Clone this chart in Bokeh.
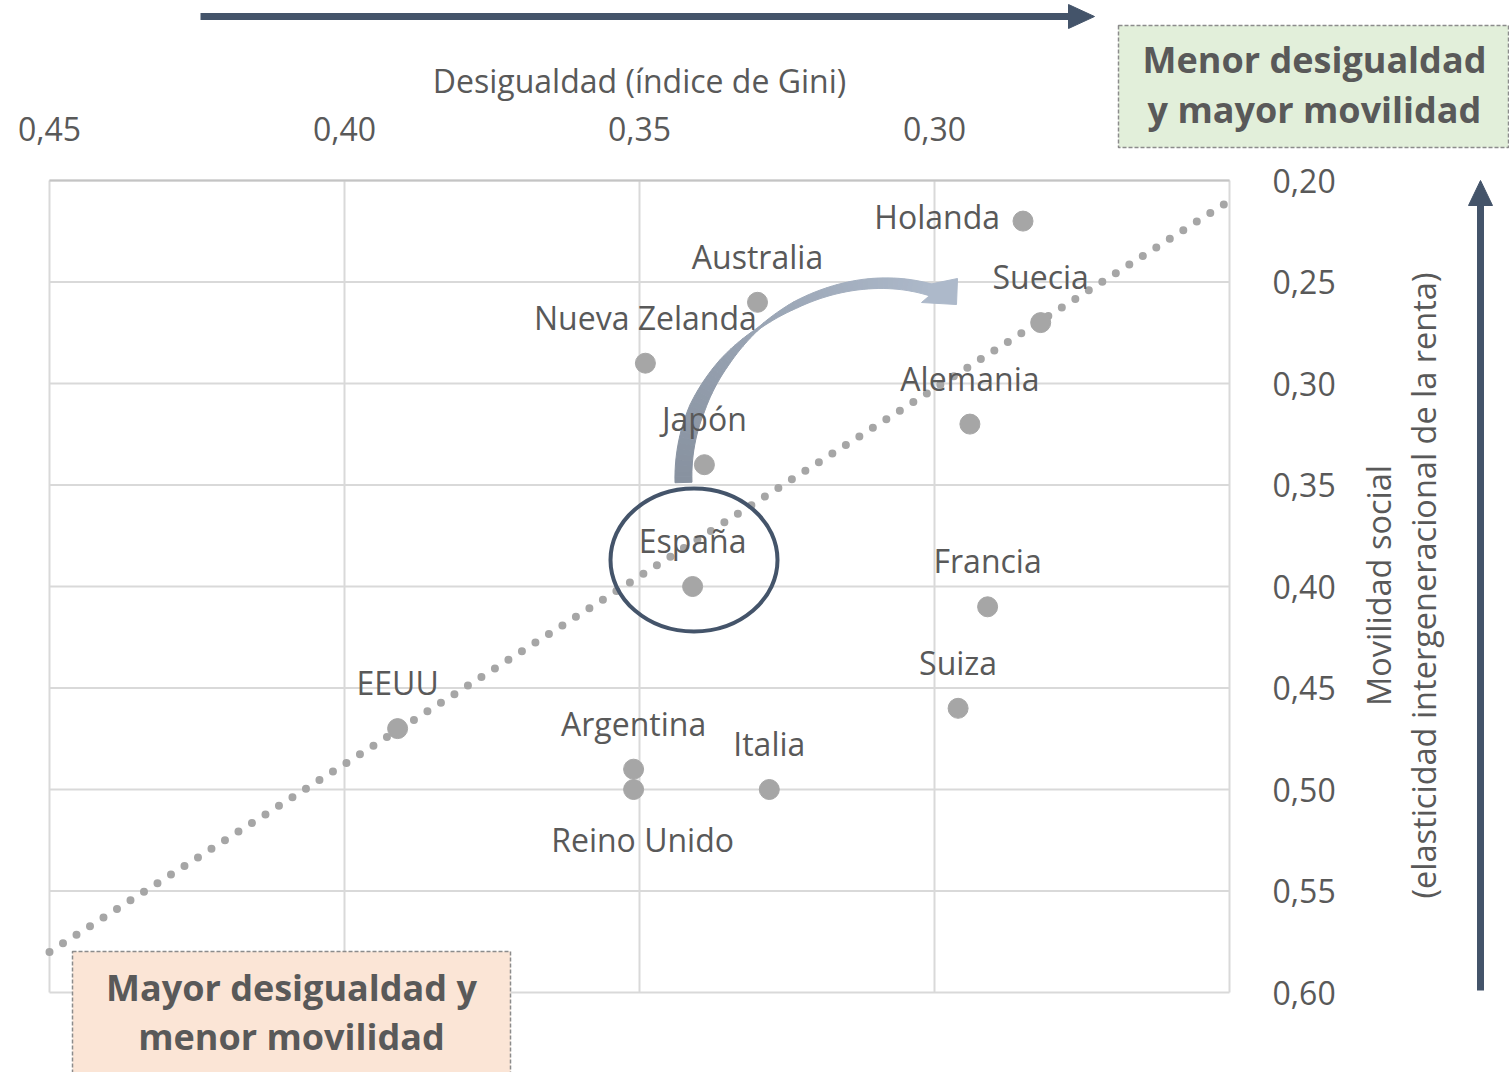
import numpy as np
from bokeh.plotting import figure
from bokeh.models import Range1d, FixedTicker, ColumnDataSource
from bokeh.core.properties import value
from bokeh.embed import file_html
from bokeh.resources import INLINE

# ---------------- data ----------------
countries = ["Holanda", "Suecia", "Australia", "Nueva Zelanda", "Japón", "Alemania",
             "España", "Francia", "Suiza", "EEUU", "Argentina", "Reino Unido", "Italia"]
gini = [0.285, 0.282, 0.330, 0.349, 0.339, 0.294, 0.341, 0.291, 0.296, 0.391,
        0.351, 0.351, 0.328]
movilidad = [0.22, 0.27, 0.26, 0.29, 0.34, 0.32, 0.40, 0.41, 0.46, 0.47,
             0.49, 0.50, 0.50]
label_side = ["left", "above", "above", "above", "above", "above", "above",
              "above", "above", "above", "above", "below", "above"]

x_ticks = [0.45, 0.40, 0.35, 0.30]
x_tick_labels = ["0,45", "0,40", "0,35", "0,30"]
x_grid = [0.45, 0.40, 0.35, 0.30, 0.25]
y_ticks = [0.20, 0.25, 0.30, 0.35, 0.40, 0.45, 0.50, 0.55, 0.60]
y_tick_labels = ["0,20", "0,25", "0,30", "0,35", "0,40", "0,45", "0,50", "0,55", "0,60"]

trend_gini = [0.45, 0.25]
trend_mov = [0.580, 0.210]

x_title = "Desigualdad (índice de Gini)"
y_title_1 = "Movilidad social"
y_title_2 = "(elasticidad intergeneracional de la renta)"
box_good = ["Menor desigualdad", "y mayor movilidad"]
box_bad = ["Mayor desigualdad y", "menor movilidad"]

# ---------------- layout (page pixels) ----------------
W, H = 1509, 1072
FL, FR, FT, FB = 49, 1229, 180, 992      # data area edges
X0, X1 = 0.45, 0.25                       # left, right
Y0, Y1 = 0.20, 0.60                       # top, bottom

def dx(px):
    return X0 + (px - FL) * (X1 - X0) / (FR - FL)

def dy(py):
    return Y0 + (py - FT) * (Y1 - Y0) / (FB - FT)

FONT = "Open Sans"
TXT = "#595959"
NAVY = "#44546a"
FS = "32px"

p = figure(width=W, height=H, x_range=Range1d(dx(0), dx(W)), y_range=Range1d(dy(H), dy(0)),
           x_axis_location="above", y_axis_location="right",
           output_backend="svg", toolbar_location=None,
           min_border_left=0, min_border_right=0, min_border_top=0, min_border_bottom=0)
p.outline_line_color = None
p.grid.visible = False

# axes (drawn into the canvas area via negative standoff)
xa = p.xaxis[0]
xa.ticker = FixedTicker(ticks=x_ticks)
xa.major_label_overrides = dict(zip(x_ticks, x_tick_labels))
xa.major_label_standoff = -146
ya = p.yaxis[0]
ya.ticker = FixedTicker(ticks=y_ticks)
ya.major_label_overrides = dict(zip(y_ticks, y_tick_labels))
ya.major_label_standoff = -(W - 1266)
for a in (xa, ya):
    a.axis_line_color = None
    a.major_tick_line_color = None
    a.minor_tick_line_color = None
    a.major_label_text_font = FONT
    a.major_label_text_font_size = FS
    a.major_label_text_color = TXT

# grid lines of the data area
p.segment(x0=x_grid, y0=[Y0] * len(x_grid), x1=x_grid, y1=[Y1] * len(x_grid),
          line_color="#d9d9d9", line_width=2)
p.segment(x0=[X0] * len(y_ticks), y0=y_ticks, x1=[X1] * len(y_ticks), y1=y_ticks,
          line_color="#d9d9d9", line_width=2)
p.segment(x0=[X0], y0=[Y0], x1=[X1], y1=[Y0], line_color="#c4c4c4", line_width=2)

# trend line (dotted)
p.line(trend_gini, trend_mov, line_color="#a6a6a6", line_width=8,
       line_dash="0 16", line_cap="round")

# curved arrow (tapered band with gradient)
P = np.array([[683, 482], [679, 350], [820, 255], [932, 290]], dtype=float)
N = 70
t = np.linspace(0, 1, N + 1)
B = ((1 - t) ** 3)[:, None] * P[0] + (3 * (1 - t) ** 2 * t)[:, None] * P[1] + \
    (3 * (1 - t) * t ** 2)[:, None] * P[2] + (t ** 3)[:, None] * P[3]
D = (3 * (1 - t) ** 2)[:, None] * (P[1] - P[0]) + (6 * (1 - t) * t)[:, None] * (P[2] - P[1]) + \
    (3 * t ** 2)[:, None] * (P[3] - P[2])
Nrm = np.stack([-D[:, 1], D[:, 0]], axis=1)
Nrm /= np.linalg.norm(Nrm, axis=1)[:, None]
wt = np.interp(t, [0, 0.2, 0.35, 0.48, 0.6, 0.8, 1.0], [17, 16, 10, 2, 7, 10, 12])
Aedge = B + Nrm * (wt / 2)[:, None]
Bedge = B - Nrm * (wt / 2)[:, None]
c0 = np.array([0x88, 0x92, 0xa0])
c1 = np.array([0xad, 0xb9, 0xca])
qx, qy, qc = [], [], []
for i in range(N):
    pts = [Aedge[i], Aedge[i + 1], Bedge[i + 1], Bedge[i]]
    qx.append([dx(q[0]) for q in pts])
    qy.append([dy(q[1]) for q in pts])
    tm = (t[i] + t[i + 1]) / 2
    c = (c0 + (c1 - c0) * tm).astype(int)
    qc.append("#%02x%02x%02x" % tuple(c))
p.patches(qx, qy, fill_color=qc, line_color=qc, line_width=1)
head = [(928, 284), (957, 278), (956, 304), (921, 302), (928, 296)]
p.patch([dx(h[0]) for h in head], [dy(h[1]) for h in head],
        fill_color="#adb9ca", line_color="#adb9ca", line_width=1)

# ellipse around España
p.ellipse(x=dx(693.5), y=dy(559.5), width=167, height=143,
          width_units="screen", height_units="screen",
          fill_color=None, line_color=NAVY, line_width=4)

# points
src = ColumnDataSource(dict(x=gini, y=movilidad, name=countries))
p.scatter("x", "y", source=src, size=20, fill_color="#a6a6a6", line_color="#a6a6a6")

# point labels
offsets = {"above": (0, -46, "center"), "left": (-23, -5, "right"), "below": (9, 50, "center")}
for side, (xo, yo, al) in offsets.items():
    idx = [i for i, s in enumerate(label_side) if s == side]
    s = ColumnDataSource(dict(x=[gini[i] for i in idx], y=[movilidad[i] for i in idx],
                              name=[countries[i] for i in idx]))
    p.text("x", "y", text="name", source=s, x_offset=xo, y_offset=yo,
           text_align=al, text_baseline="middle", text_font=value(FONT),
           text_font_size=value(FS), text_color=TXT)

# x-axis title
p.text(x=[dx(639)], y=[dy(80)], text=[x_title], text_align="center",
       text_baseline="middle", text_font=value(FONT), text_font_size=value(FS),
       text_color=TXT)

# y-axis title (two lines, rotated)
p.text(x=[dx(1378), dx(1423)], y=[dy(585), dy(585)], text=[y_title_1, y_title_2],
       angle=np.pi / 2, text_align="center", text_baseline="middle",
       text_font=value(FONT), text_font_size=value("32.5px"), text_color=TXT)

# direction arrows
p.line([dx(200), dx(1072)], [dy(16), dy(16)], line_color=NAVY, line_width=7)
p.patch([dx(1068), dx(1094), dx(1068)], [dy(4), dy(16), dy(28)],
        fill_color=NAVY, line_color=NAVY)
p.line([dx(1480), dx(1480)], [dy(990), dy(202)], line_color=NAVY, line_width=7)
p.patch([dx(1468), dx(1480), dx(1492)], [dy(205), dy(180), dy(205)],
        fill_color=NAVY, line_color=NAVY)

# boxes
p.quad(left=[dx(1118), dx(72)], right=[dx(1508), dx(510)],
       top=[dy(25), dy(951)], bottom=[dy(147), dy(1090)],
       fill_color=["#e2efda", "#fbe5d6"], line_color="#8c8c8c",
       line_width=1.5, line_dash="4 2")
p.text(x=[dx(1314), dx(1314), dx(291), dx(291)], y=[dy(59), dy(109), dy(987), dy(1036)],
       text=box_good + box_bad, text_align="center", text_baseline="middle",
       text_font=value(FONT), text_font_style="bold", text_font_size=value("36px"),
       text_color=TXT)

with open("out.html", "w", encoding="utf-8") as f:
    f.write(file_html(p, INLINE))
